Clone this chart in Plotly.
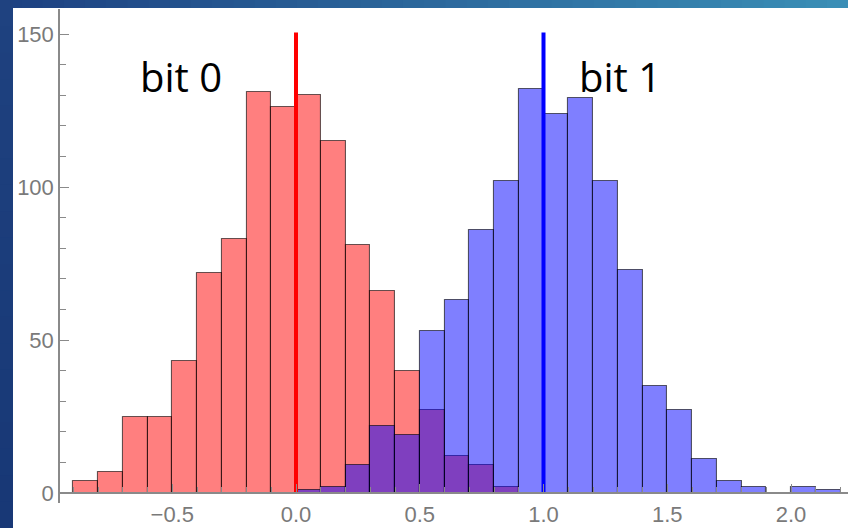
import plotly.graph_objects as go

# ---- data ----
bin_width = 0.1
red_left_edges = [-0.9, -0.8, -0.7, -0.6, -0.5, -0.4, -0.3, -0.2, -0.1, 0.0,
                  0.1, 0.2, 0.3, 0.4, 0.5, 0.6, 0.7, 0.8]
red_counts = [4, 7, 25, 25, 43, 72, 83, 131, 126, 130,
              115, 81, 66, 40, 27, 12, 9, 2]

blue_left_edges = [0.0, 0.1, 0.2, 0.3, 0.4, 0.5, 0.6, 0.7, 0.8, 0.9, 1.0,
                   1.1, 1.2, 1.3, 1.4, 1.5, 1.6, 1.7, 1.8, 1.9, 2.0, 2.1]
blue_counts = [1, 2, 9, 22, 19, 53, 63, 86, 102, 132, 124,
               129, 102, 73, 35, 27, 11, 4, 2, 0, 2, 1]

bit_values = [0.0, 1.0]
bit_labels = ["bit 0", "bit 1"]
marker_line_height = [0, 150.5]
label_pos_x = [-0.463, 1.309]
label_pos_y = [136, 136]

y_tick_vals = [0, 50, 100, 150]
x_range = [-0.95354, 2.2303]
y_range = [-3.268, 158.17]

# ---- figure ----
W, H = 848, 528
ML, MR, MT, MB = 60, 0, 9, 25
pw, ph = W - ML - MR, H - MT - MB

def cx(edges):
    return [e + bin_width / 2 for e in edges]

fig = go.Figure()
fig.add_trace(go.Bar(x=cx(red_left_edges), y=red_counts, width=bin_width,
                     marker=dict(color="rgba(255,0,0,0.5)",
                                 line=dict(color="rgba(0,0,0,0.6)", width=1.1)),
                     showlegend=False))
fig.add_trace(go.Bar(x=cx(blue_left_edges), y=blue_counts, width=bin_width,
                     marker=dict(color="rgba(0,0,255,0.5)",
                                 line=dict(color="rgba(0,0,0,0.6)", width=1.1)),
                     showlegend=False))
for xv, col in zip(bit_values, ["#ff0000", "#0000ff"]):
    fig.add_trace(go.Scatter(x=[xv, xv], y=marker_line_height, mode="lines",
                             line=dict(color=col, width=4), showlegend=False))

for t, xx, yy in zip(bit_labels, label_pos_x, label_pos_y):
    fig.add_annotation(x=xx, y=yy, xref="x", yref="y", text=t, showarrow=False,
                       font=dict(family="Open Sans", size=40, color="black"))

# slide background strips (top gradient + left band)
def px2paper_x(p):
    return (p - ML) / pw

def py2paper_y(p):
    return (H - MB - p) / ph

shapes = []
n = 40
c0 = (30, 66, 130)
c1 = (58, 142, 182)
for i in range(n):
    f = i / (n - 1)
    col = tuple(int(c0[k] + (c1[k] - c0[k]) * f) for k in range(3))
    shapes.append(dict(type="rect", xref="paper", yref="paper",
                       x0=px2paper_x(W * i / n), x1=px2paper_x(W * (i + 1) / n + 1),
                       y0=py2paper_y(8), y1=py2paper_y(0),
                       fillcolor="rgb(%d,%d,%d)" % col, line=dict(width=0),
                       layer="below"))
m = 20
l0 = (31, 66, 128)
l1 = (24, 56, 118)
for i in range(m):
    f = i / (m - 1)
    col = tuple(int(l0[k] + (l1[k] - l0[k]) * f) for k in range(3))
    shapes.append(dict(type="rect", xref="paper", yref="paper",
                       x0=px2paper_x(0), x1=px2paper_x(13),
                       y0=py2paper_y(H * (i + 1) / m + 1), y1=py2paper_y(H * i / m),
                       fillcolor="rgb(%d,%d,%d)" % col, line=dict(width=0),
                       layer="below"))

axis_col = "#8a8a8a"
tick_font = dict(family="Liberation Sans", size=22, color="#7a7a7a")

fig.update_layout(
    width=W, height=H, margin=dict(l=ML, r=MR, t=MT, b=MB, pad=0),
    paper_bgcolor="white", plot_bgcolor="white",
    barmode="overlay", bargap=0, shapes=shapes,
    xaxis=dict(range=x_range, anchor="free",
               position=(0 - y_range[0]) / (y_range[1] - y_range[0]),
               showgrid=False, zeroline=False,
               showline=True, linecolor=axis_col, linewidth=1.5,
               tick0=0, dtick=0.5, tickformat=".1f",
               ticks="inside", ticklen=8, tickcolor=axis_col, tickwidth=1.3,
               ticklabelstandoff=2,
               minor=dict(dtick=0.1, ticks="inside", ticklen=5,
                          tickcolor=axis_col, tickwidth=1.2, showgrid=False),
               tickfont=tick_font),
    yaxis=dict(range=y_range, showgrid=False, zeroline=False,
               showline=True, linecolor=axis_col, linewidth=1.5,
               tickvals=y_tick_vals,
               ticks="inside", ticklen=9, tickcolor=axis_col, tickwidth=1.3,
               minor=dict(dtick=10, ticks="inside", ticklen=6,
                          tickcolor=axis_col, tickwidth=1.2, showgrid=False),
               tickfont=tick_font),
)

fig.write_html("out.html")
